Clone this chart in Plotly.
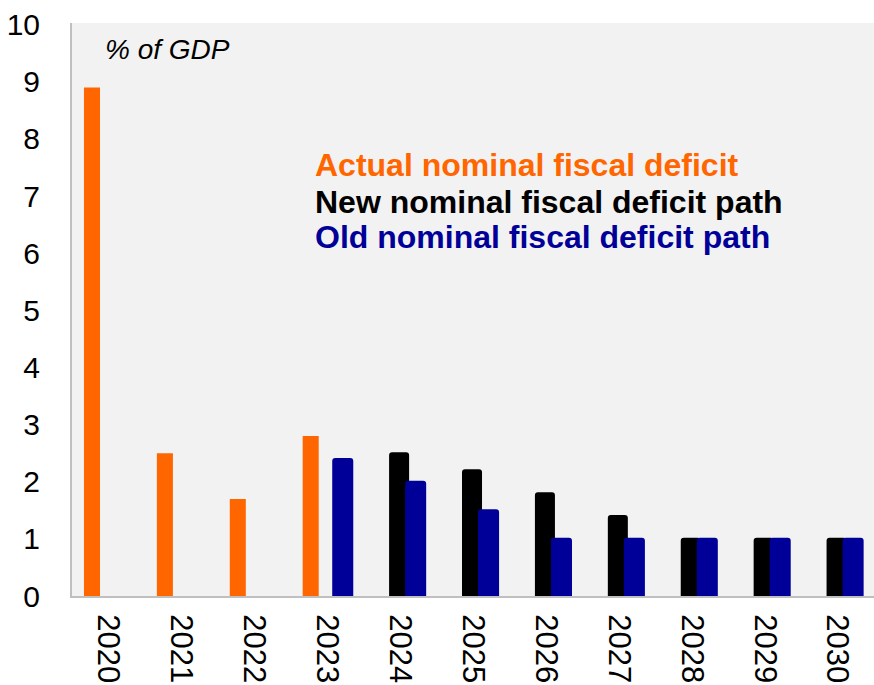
import plotly.graph_objects as go

years = ["2020", "2021", "2022", "2023", "2024", "2025", "2026", "2027", "2028", "2029", "2030"]
actual = [8.9, 2.5, 1.7, 2.8, None, None, None, None, None, None, None]
new_path = [None, None, None, None, 2.5, 2.2, 1.8, 1.4, 1.0, 1.0, 1.0]
old_path = [None, None, None, 2.4, 2.0, 1.5, 1.0, 1.0, 1.0, 1.0, 1.0]

ORANGE = "#FF6600"
BLACK = "#000000"
BLUE = "#000099"
FONT = "Liberation Sans, Arial, sans-serif"

fig = go.Figure()
fig.add_trace(go.Bar(x=years, y=actual, name="Actual nominal fiscal deficit",
                     marker=dict(color=ORANGE, line=dict(width=0)),
                     offset=-0.336, width=0.22))
fig.add_trace(go.Bar(x=years, y=new_path, name="New nominal fiscal deficit path",
                     marker=dict(color=BLACK, line=dict(width=2, color=BLACK), cornerradius=2),
                     offset=-0.137, width=0.247))
fig.add_trace(go.Bar(x=years, y=old_path, name="Old nominal fiscal deficit path",
                     marker=dict(color=BLUE, line=dict(width=2, color=BLUE), cornerradius=2),
                     offset=0.083, width=0.261))

fig.update_layout(
    barmode="overlay",
    width=874, height=685,
    margin=dict(l=72, r=0, t=23, b=89),
    paper_bgcolor="white",
    plot_bgcolor="#F2F2F2",
    showlegend=False,
    font=dict(family=FONT, color="black"),
)
fig.update_xaxes(
    type="category", tickangle=90,
    showline=True, linecolor="#BFBFBF", linewidth=2,
    showgrid=False, ticks="", ticklabelstandoff=10,
    tickfont=dict(size=31, family=FONT, color="black"),
    range=[-0.5, 10.5],
)
fig.update_yaxes(
    range=[0, 10.03], dtick=1, tick0=0,
    showline=True, linecolor="#BFBFBF", linewidth=2,
    showgrid=False, zeroline=False, ticks="",
    ticklabelstandoff=24,
    tickfont=dict(size=30, family=FONT, color="black"),
)

fig.add_annotation(text="<i>% of GDP</i>", xref="paper", yref="paper",
                   x=0.039, y=0.953, xanchor="left", yanchor="middle",
                   showarrow=False, font=dict(size=28, family=FONT, color="black"))
labels = [("Actual nominal fiscal deficit", ORANGE, 0.752),
          ("New nominal fiscal deficit path", BLACK, 0.688),
          ("Old nominal fiscal deficit path", BLUE, 0.627)]
for txt, col, yy in labels:
    fig.add_annotation(text="<b>" + txt + "</b>", xref="paper", yref="paper",
                       x=0.300, y=yy, xanchor="left", yanchor="middle",
                       showarrow=False, font=dict(size=32, family=FONT, color=col))

fig.write_html("out.html")
